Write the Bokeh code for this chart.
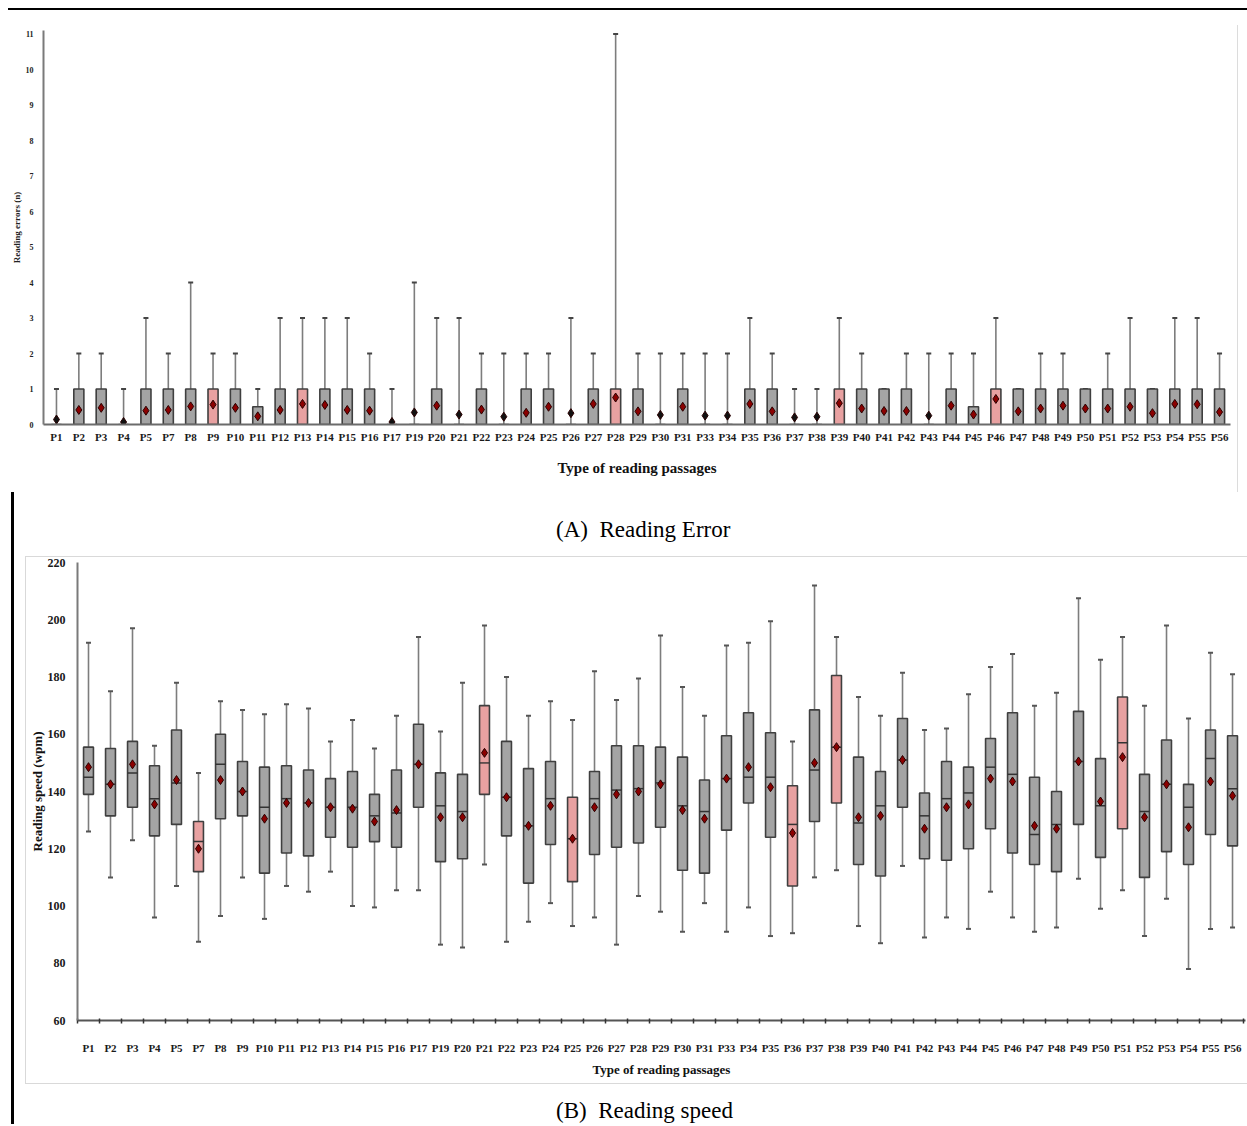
from bokeh.plotting import figure
from bokeh.models import ColumnDataSource, Range1d, FixedTicker, Div, Spacer
from bokeh.layouts import column, row
from bokeh.embed import file_html
from bokeh.resources import INLINE

# ---------------- data ----------------
passages = ["P1", "P2", "P3", "P4", "P5", "P7", "P8", "P9", "P10", "P11", "P12", "P13",
            "P14", "P15", "P16", "P17", "P19", "P20", "P21", "P22", "P23", "P24", "P25",
            "P26", "P27", "P28", "P29", "P30", "P31", "P33", "P34", "P35", "P36", "P37",
            "P38", "P39", "P40", "P41", "P42", "P43", "P44", "P45", "P46", "P47", "P48",
            "P49", "P50", "P51", "P52", "P53", "P54", "P55", "P56"]

# (A) reading errors
err_q1 = [0] * 53
err_q3 = [0, 1, 1, 0, 1, 1, 1, 1, 1, 0.5, 1, 1,
          1, 1, 1, 0, 0, 1, 0, 1, 0, 1, 1,
          0, 1, 1, 1, 0, 1, 0, 0, 1, 1, 0,
          0, 1, 1, 1, 1, 0, 1, 0.5, 1, 1, 1,
          1, 1, 1, 1, 1, 1, 1, 1]
err_max = [1, 2, 2, 1, 3, 2, 4, 2, 2, 1, 3, 3,
           3, 3, 2, 1, 4, 3, 3, 2, 2, 2, 2,
           3, 2, 11, 2, 2, 2, 2, 2, 3, 2, 1,
           1, 3, 2, 1, 2, 2, 2, 2, 3, 1, 2,
           2, 1, 2, 3, 1, 3, 3, 2]
err_mean = [0.14, 0.41, 0.47, 0.07, 0.39, 0.41, 0.51, 0.56, 0.47, 0.23, 0.41, 0.58,
            0.55, 0.41, 0.39, 0.07, 0.34, 0.53, 0.28, 0.42, 0.22, 0.33, 0.5,
            0.32, 0.58, 0.76, 0.37, 0.27, 0.5, 0.25, 0.25, 0.58, 0.37, 0.2,
            0.22, 0.6, 0.45, 0.38, 0.38, 0.25, 0.53, 0.28, 0.72, 0.37, 0.45,
            0.53, 0.45, 0.45, 0.5, 0.32, 0.58, 0.57, 0.35]
err_highlight = ["P9", "P13", "P28", "P39", "P46"]

# (B) reading speed
spd_min = [126, 110, 123, 96, 107, 87.5, 96.5, 110, 95.5, 107, 105, 112,
           100, 99.5, 105.5, 105.5, 86.5, 85.5, 114.5, 87.5, 94.5, 101, 93,
           96, 86.5, 103.5, 98, 91, 101, 91, 99.5, 89.5, 90.5, 110,
           112.5, 93, 87, 114, 89, 96, 92, 105, 96, 91, 92.5,
           109.5, 99, 105.5, 89.5, 102.5, 78, 92, 92.5]
spd_q1 = [139, 131.5, 134.5, 124.5, 128.5, 112, 130.5, 131.5, 111.5, 118.5, 117.5, 124,
          120.5, 122.5, 120.5, 134.5, 115.5, 116.5, 139, 124.5, 108, 121.5, 108.5,
          118, 120.5, 122, 127.5, 112.5, 111.5, 126.5, 136, 124, 107, 129.5,
          136, 114.5, 110.5, 134.5, 116.5, 116, 120, 127, 118.5, 114.5, 112,
          128.5, 117, 127, 110, 119, 114.5, 125, 121]
spd_med = [145, 142.5, 146.5, 137.5, 143, 122.5, 149.5, 140, 134.5, 137.5, 136, 134.5,
           134.5, 131.5, 132.5, 149.5, 135, 133, 150, 138, 128, 137.5, 123.5,
           137.5, 140.5, 141, 143, 135, 133, 144.5, 145, 145, 128.5, 147.5,
           155.5, 129, 135, 151, 131.5, 137.5, 139.5, 148.5, 146, 125, 128.5,
           150.5, 135, 157, 133, 142.5, 134.5, 151.5, 141]
spd_q3 = [155.5, 155, 157.5, 149, 161.5, 129.5, 160, 150.5, 148.5, 149, 147.5, 144.5,
          147, 139, 147.5, 163.5, 146.5, 146, 170, 157.5, 148, 150.5, 138,
          147, 156, 156, 155.5, 152, 144, 159.5, 167.5, 160.5, 142, 168.5,
          180.5, 152, 147, 165.5, 139.5, 150.5, 148.5, 158.5, 167.5, 145, 140,
          168, 151.5, 173, 146, 158, 142.5, 161.5, 159.5]
spd_max = [192, 175, 197, 156, 178, 146.5, 171.5, 168.5, 167, 170.5, 169, 157.5,
           165, 155, 166.5, 194, 161, 178, 198, 180, 166.5, 171.5, 165,
           182, 172, 179.5, 194.5, 176.5, 166.5, 191, 192, 199.5, 157.5, 212,
           194, 173, 166.5, 181.5, 161.5, 162, 174, 183.5, 188, 170, 174.5,
           207.5, 186, 194, 170, 198, 165.5, 188.5, 181]
spd_mean = [148.5, 142.5, 149.5, 135.5, 144, 120, 144, 140, 130.5, 136, 136, 134.5,
            134, 129.5, 133.5, 149.5, 131, 131, 153.5, 138, 128, 135, 123.5,
            134.5, 139, 140, 142.5, 133.5, 130.5, 144.5, 148.5, 141.5, 125.5, 150,
            155.5, 131, 131.5, 151, 127, 134.5, 135.5, 144.5, 143.5, 128, 127,
            150.5, 136.5, 152, 131, 142.5, 127.5, 143.5, 138.5]
spd_highlight = ["P7", "P21", "P25", "P36", "P38", "P51"]

# ---------------- styles ----------------
SERIF = "Liberation Serif"
GRAY = "#a4a4a4"
PINK = "#e8a1a1"
BOX_LINE = "#3f3f3f"
WHISK = "#7d7d7d"
MEAN_RED = "#8b0000"

idx = list(range(len(passages)))
labels_map = {i: p for i, p in enumerate(passages)}

# ================= (A) Reading errors =================
src_a = ColumnDataSource(dict(
    x=idx, q1=err_q1, q3=err_q3, mx=err_max, mean=err_mean,
    fill=[PINK if p in err_highlight else GRAY for p in passages],
    mfill=[MEAN_RED if q > 0 else "#111111" for q in err_q3],
))

pa = figure(width=1229, height=482, x_range=Range1d(-0.58, 52.49), y_range=Range1d(0, 11.1),
            output_backend="svg", toolbar_location=None, margin=0,
            min_border_left=35, min_border_right=7, min_border_top=20, min_border_bottom=68)
pa.xgrid.visible = False
pa.ygrid.visible = False
pa.outline_line_color = None

pa.segment(x0="x", y0="q3", x1="x", y1="mx", source=src_a, line_color=WHISK, line_width=1.6)
pa.scatter(x="x", y="mx", source=src_a, marker="dash", size=5, line_color="#444444", line_width=2)
pa.vbar(x="x", width=0.45, bottom="q1", top="q3", source=src_a, fill_color="fill",
        line_color=BOX_LINE, line_width=1.6)
pa.scatter(x="x", y="mean", source=src_a, marker="diamond", size=9, fill_color="mfill",
           line_color="#2a0000", line_width=1)

pa.xaxis.ticker = FixedTicker(ticks=idx)
pa.xaxis.major_label_overrides = labels_map
pa.xaxis.major_tick_line_color = None
pa.xaxis.major_tick_out = 0
pa.xaxis.major_tick_in = 0
pa.xaxis.minor_tick_line_color = None
pa.xaxis.axis_line_color = "#6b6b6b"
pa.xaxis.axis_line_width = 2
pa.xaxis.major_label_standoff = 6
pa.xaxis.major_label_text_font = SERIF
pa.xaxis.major_label_text_font_style = "bold"
pa.xaxis.major_label_text_font_size = "11px"
pa.xaxis.major_label_text_color = "#1a1a1a"
pa.xaxis.axis_label = "Type of reading passages"
pa.xaxis.axis_label_text_font = SERIF
pa.xaxis.axis_label_text_font_style = "bold"
pa.xaxis.axis_label_text_font_size = "15px"
pa.xaxis.axis_label_text_color = "#111111"
pa.xaxis.axis_label_standoff = 14

pa.yaxis.ticker = FixedTicker(ticks=list(range(0, 12)))
pa.yaxis.major_tick_line_color = None
pa.yaxis.major_tick_out = 0
pa.yaxis.major_tick_in = 0
pa.yaxis.minor_tick_line_color = None
pa.yaxis.axis_line_color = "#7a7a7a"
pa.yaxis.axis_line_width = 2
pa.yaxis.major_label_standoff = 10
pa.yaxis.major_label_text_font = SERIF
pa.yaxis.major_label_text_font_style = "bold"
pa.yaxis.major_label_text_font_size = "8px"
pa.yaxis.major_label_text_color = "#222222"
pa.yaxis.axis_label = "Reading errors (n)"
pa.yaxis.axis_label_text_font = SERIF
pa.yaxis.axis_label_text_font_style = "bold"
pa.yaxis.axis_label_text_font_size = "9px"
pa.yaxis.axis_label_text_color = "#222222"
pa.yaxis.axis_label_standoff = 1

# ================= (B) Reading speed =================
src_b = ColumnDataSource(dict(
    x=idx, mn=spd_min, q1=spd_q1, med=spd_med, q3=spd_q3, mx=spd_max, mean=spd_mean,
    fill=[PINK if p in spd_highlight else GRAY for p in passages],
))

pb = figure(width=1221, height=526, x_range=Range1d(-0.5, 52.59), y_range=Range1d(60, 220),
            output_backend="svg", toolbar_location=None, margin=0,
            min_border_left=51, min_border_right=2, min_border_top=5, min_border_bottom=63)
pb.xgrid.visible = False
pb.ygrid.visible = False
pb.outline_line_color = None

pb.segment(x0="x", y0="q3", x1="x", y1="mx", source=src_b, line_color=WHISK, line_width=1.6)
pb.segment(x0="x", y0="mn", x1="x", y1="q1", source=src_b, line_color=WHISK, line_width=1.6)
pb.scatter(x="x", y="mx", source=src_b, marker="dash", size=5, line_color="#555555", line_width=2)
pb.scatter(x="x", y="mn", source=src_b, marker="dash", size=5, line_color="#555555", line_width=2)
pb.vbar(x="x", width=0.45, bottom="q1", top="q3", source=src_b, fill_color="fill",
        line_color=BOX_LINE, line_width=1.6)
pb.scatter(x="x", y="med", source=src_b, marker="dash", size=10, line_color="#333333", line_width=1.5)
pb.scatter(x="x", y="mean", source=src_b, marker="diamond", size=9, fill_color=MEAN_RED,
           line_color="#2a0000", line_width=1)

pb.xaxis.ticker = FixedTicker(ticks=idx, minor_ticks=[i - 0.5 for i in idx] + [len(idx) - 0.5])
pb.xaxis.major_label_overrides = labels_map
pb.xaxis.major_tick_line_color = None
pb.xaxis.major_tick_out = 0
pb.xaxis.major_tick_in = 0
pb.xaxis.minor_tick_line_color = "#333333"
pb.xaxis.minor_tick_line_width = 1.5
pb.xaxis.minor_tick_in = 2
pb.xaxis.minor_tick_out = 3
pb.xaxis.axis_line_color = "#555555"
pb.xaxis.axis_line_width = 2
pb.xaxis.major_label_standoff = 18
pb.xaxis.major_label_text_font = SERIF
pb.xaxis.major_label_text_font_style = "bold"
pb.xaxis.major_label_text_font_size = "11px"
pb.xaxis.major_label_text_color = "#1a1a1a"
pb.xaxis.axis_label = "Type of reading passages"
pb.xaxis.axis_label_text_font = SERIF
pb.xaxis.axis_label_text_font_style = "bold"
pb.xaxis.axis_label_text_font_size = "13px"
pb.xaxis.axis_label_text_color = "#111111"
pb.xaxis.axis_label_standoff = 5

pb.yaxis.ticker = FixedTicker(ticks=list(range(60, 221, 20)))
pb.yaxis.major_tick_line_color = None
pb.yaxis.major_tick_out = 0
pb.yaxis.major_tick_in = 0
pb.yaxis.minor_tick_line_color = None
pb.yaxis.axis_line_color = "#7a7a7a"
pb.yaxis.axis_line_width = 2
pb.yaxis.major_label_standoff = 12
pb.yaxis.major_label_text_font = SERIF
pb.yaxis.major_label_text_font_style = "bold"
pb.yaxis.major_label_text_font_size = "12px"
pb.yaxis.major_label_text_color = "#1a1a1a"
pb.yaxis.axis_label = "Reading speed (wpm)"
pb.yaxis.axis_label_text_font = SERIF
pb.yaxis.axis_label_text_font_style = "bold"
pb.yaxis.axis_label_text_font_size = "13px"
pb.yaxis.axis_label_text_color = "#111111"
pb.yaxis.axis_label_standoff = 0

# ================= page layout =================
def bar(w, h, color):
    return Div(text="", width=w, height=h, margin=0,
               styles={"background-color": color, "overflow": "hidden"})

cap_style = ("font-family:'Liberation Serif';font-size:23px;line-height:24px;"
             "color:#000;white-space:nowrap;")
div_a = Div(text=f'<div style="{cap_style}padding-top:26px;padding-left:542px;">(A)&nbsp;&nbsp;Reading Error</div>',
            width=1233, height=64, margin=0)
div_b = Div(text=f'<div style="{cap_style}padding-top:15px;padding-left:542px;">(B)&nbsp;&nbsp;Reading speed</div>',
            width=1233, height=40, margin=0)

top_row = row(
    pa,
    column(Spacer(width=1, height=15, margin=0), bar(1, 467, "#dcdcdc"), margin=0, spacing=0),
    Spacer(width=9, height=482, margin=0),
    margin=0, spacing=0,
)

panel_b = row(
    Spacer(width=11, height=528, margin=0),
    bar(1, 528, "#d9d9d9"),
    column(bar(1221, 1, "#d9d9d9"), pb, bar(1221, 1, "#d9d9d9"), margin=0, spacing=0),
    margin=0, spacing=0,
)

lower = row(
    Spacer(width=3, height=632, margin=0),
    bar(3, 632, "#000000"),
    column(div_a, panel_b, div_b, margin=0, spacing=0),
    margin=0, spacing=0,
)

root = column(bar(1239, 2, "#000000"), top_row, lower, margin=(8, 0, 0, 8), spacing=0)

open("out.html", "w").write(file_html(root, INLINE))
